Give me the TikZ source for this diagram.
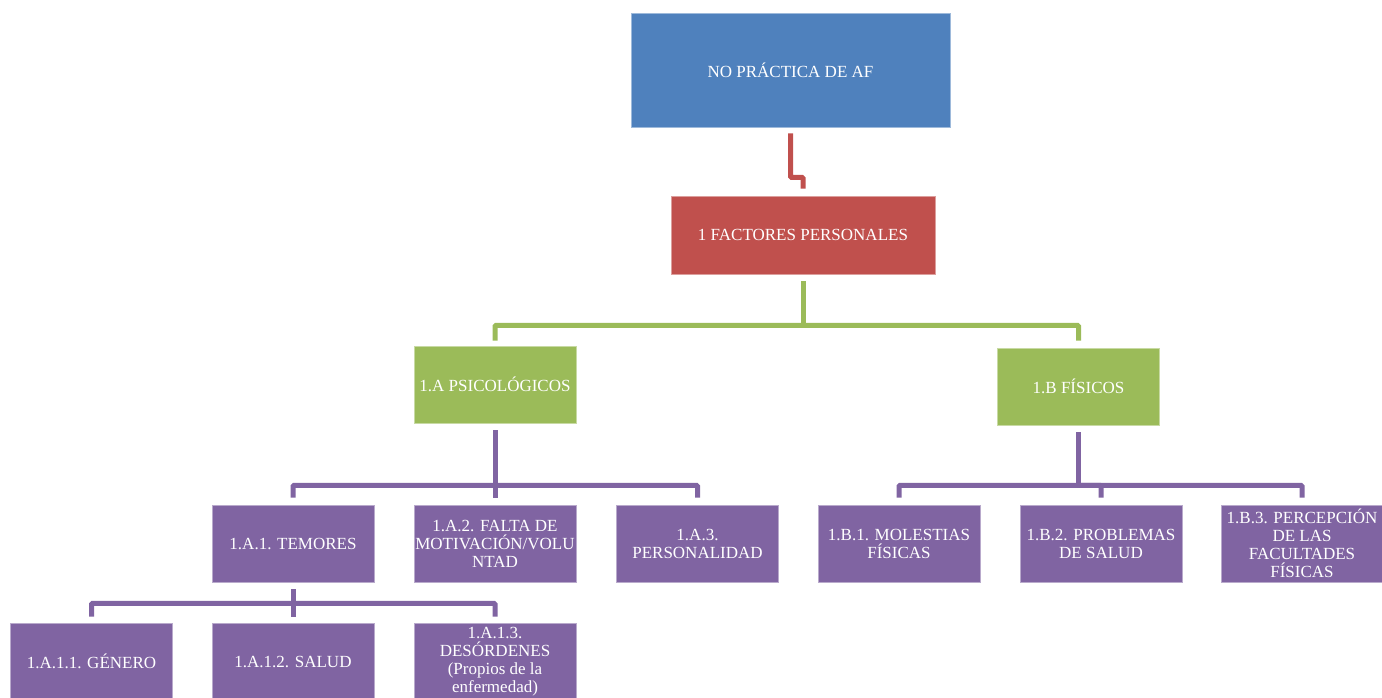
\documentclass[tikz,border=0pt]{standalone}
\usepackage{fontspec}
\setmainfont{Liberation Serif}
\usepackage{tikz}
\usetikzlibrary{positioning, calc}

\definecolor{rootblue}{HTML}{4F81BD}
\definecolor{factred}{HTML}{C0504D}
\definecolor{catgreen}{HTML}{9BBB59}
\definecolor{itempurple}{HTML}{8064A2}

\begin{document}
\begin{tikzpicture}[x=1pt, y=-1pt,
  box/.style={rectangle, fill=#1, draw=#1!55!white, line width=0.6pt, text=white,
    minimum width=162pt, minimum height=77pt, inner sep=0pt, align=center,
    font=\fontsize{17}{18}\selectfont},
  link/.style={draw=#1, line width=5pt, rounded corners=1pt}
]
  \useasboundingbox (0,0) rectangle (1382,698);

  % levels 0 and 1
  \node[box=rootblue, minimum width=319pt, minimum height=114pt] (root) at (790.5,70) {NO PRÁCTICA DE AF};
  \node[box=factred, minimum width=264pt, minimum height=78pt] (fact) at (803,235) {1 FACTORES PERSONALES};

  % level 2
  \node[box=catgreen] (psico) at (495,384.5) {1.A PSICOLÓGICOS};
  \node[box=catgreen] (fisico) at (1078.5,386.5) {1.B FÍSICOS};

  % level 3
  \node[box=itempurple] (temor) at (293,543.5) {1.A.1. TEMORES};
  \node[box=itempurple] (motiv) at (495,543.5) {1.A.2. FALTA DE\\MOTIVACIÓN/VOLU\\NTAD};
  \node[box=itempurple] (perso) at (697.5,543.5) {1.A.3.\\PERSONALIDAD};
  \node[box=itempurple] (moles) at (899,543.5) {1.B.1. MOLESTIAS\\FÍSICAS};
  \node[box=itempurple] (probl) at (1101,543.5) {1.B.2. PROBLEMAS\\DE SALUD};
  \node[box=itempurple] (perce) at (1302,543.5) {1.B.3. PERCEPCIÓN\\DE LAS\\FACULTADES\\FÍSICAS};

  % level 4
  \node[box=itempurple] (gener) at (91.5,661.5) {1.A.1.1. GÉNERO};
  \node[box=itempurple] (salud) at (293,661.5) {1.A.1.2. SALUD};
  \node[box=itempurple] (desor) at (495,661.5) {1.A.1.3.\\DESÓRDENES\\(Propios de la\\enfermedad)};

  % connectors
  \draw[link=factred] ([yshift=-6pt]root.south) -- ++(0,44) -| ([yshift=7pt]fact.north);

  \draw[link=catgreen] ([yshift=-7pt]fact.south) -- ++(0,44) coordinate (gbar);
  \draw[link=catgreen] ([yshift=5pt]psico.north) |- (gbar) -| ([yshift=7pt]fisico.north);

  \draw[link=itempurple] ([yshift=-7pt]psico.south) -- ++(0,55) coordinate (abar);
  \draw[link=itempurple] ([yshift=7pt]temor.north) |- (abar) -| ([yshift=7pt]perso.north);
  \draw[link=itempurple] (abar) -- ([yshift=7pt]motiv.north);

  \draw[link=itempurple] ([yshift=-7pt]fisico.south) -- ++(0,53) coordinate (bbar);
  \draw[link=itempurple] ([yshift=7pt]moles.north) |- (bbar) -| ([yshift=7pt]perce.north);
  \draw[link=itempurple] (bbar) -| ([yshift=7pt]probl.north);

  \draw[link=itempurple] ([yshift=-7pt]temor.south) -- ++(0,14) coordinate (tbar);
  \draw[link=itempurple] ([yshift=6pt]gener.north) |- (tbar) -| ([yshift=6pt]desor.north);
  \draw[link=itempurple] (tbar) -- ([yshift=6pt]salud.north);
\end{tikzpicture}
\end{document}
